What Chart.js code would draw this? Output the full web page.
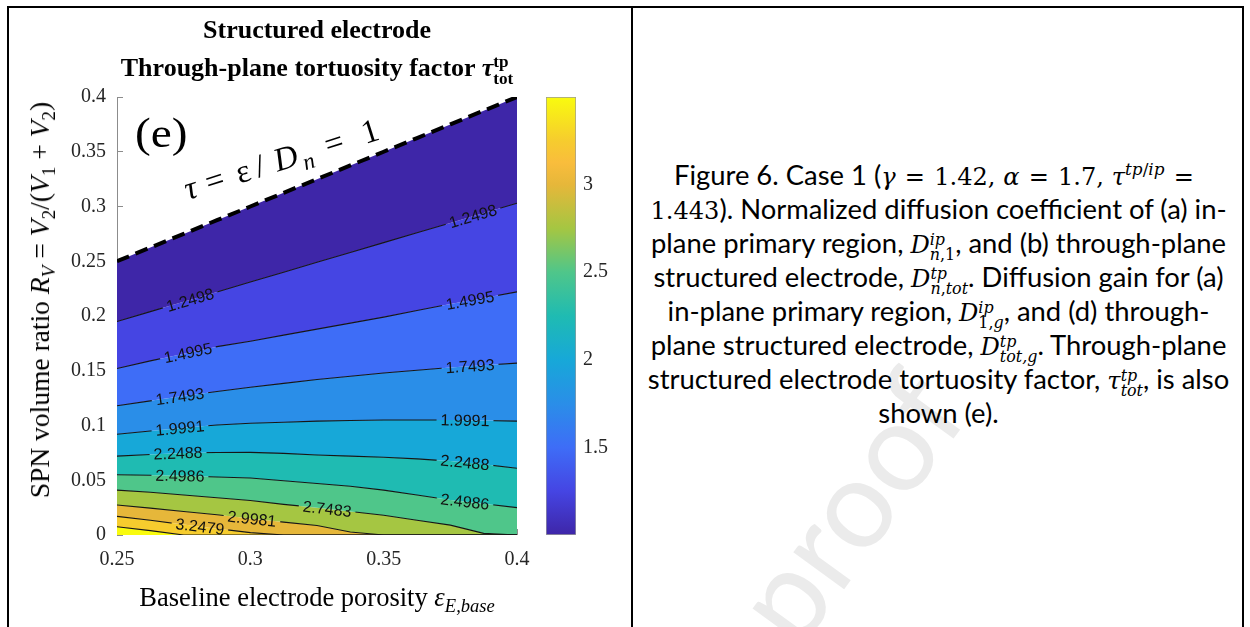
<!DOCTYPE html>
<html>
<head>
<meta charset="utf-8">
<script src="https://cdn.jsdelivr.net/npm/chart.js@4.4.1/dist/chart.umd.min.js"></script>
<style>
  html, body { margin: 0; padding: 0; background: #fff; }
  #page { position: relative; width: 1250px; height: 627px; overflow: hidden; background: #fff; }
  .rule { position: absolute; background: #000; z-index: 5; }
  .serif { font-family: 'Liberation Serif', 'Times New Roman', serif; color: #000; }
  canvas { position: absolute; top: 0; }
  #plot { left: 0; }
  #cbar { left: 520px; }
  #title { position: absolute; left: 0; width: 634px; top: 11px; text-align: center; font-weight: bold; font-size: 26px; line-height: 38px; }
  #xtitle { position: absolute; left: 0; width: 634px; top: 583px; text-align: center; font-size: 26.5px; line-height: 28px; white-space: nowrap; }
  #ytitle { position: absolute; left: 40px; top: 300px; font-size: 27.5px; line-height: 30px; white-space: nowrap; transform: translate(-50%, -50%) rotate(-90deg); }
  .ss { display: inline-flex; flex-direction: column; font-size: 0.66em; line-height: 0.95; vertical-align: 0.5em; text-align: left; }
  sub { font-size: 0.7em; vertical-align: -0.3em; line-height: 0; }
  sup { font-size: 0.7em; vertical-align: 0.6em; line-height: 0; }
  .cap { position: absolute; left: 634px; width: 609px; height: 34px; line-height: 34px; text-align: center; white-space: nowrap;
         font-family: Lato, 'Open Sans', sans-serif; font-weight: 400; font-size: 27.4px; color: #000; z-index: 2; }
  .m { font-family: 'DejaVu Serif', 'Liberation Serif', serif; font-size: 0.88em; }
  .m i { font-style: italic; }
  .eq { margin: 0 0.38em; }
  .cm { margin-right: 0.32em; }
  #wm { position: absolute; left: 846px; top: 505px; font-family: Lato, sans-serif; font-size: 124px; color: #ebebeb; white-space: nowrap;
        transform: translate(-50%, -50%) rotate(-54deg); z-index: 1; }
</style>
</head>
<body>
<div id="page">
  <div id="wm">proof</div>

  <div class="rule" style="left:7px; top:6px; width:1237px; height:2px;"></div>
  <div class="rule" style="left:7px; top:6px; width:2px; height:621px;"></div>
  <div class="rule" style="left:631px; top:6px; width:2px; height:621px;"></div>
  <div class="rule" style="left:1242px; top:6px; width:2px; height:621px;"></div>

  <canvas id="plot" width="632" height="627"></canvas>
  <canvas id="cbar" width="112" height="627"></canvas>

  <div id="title" class="serif">Structured electrode<br>Through-plane tortuosity factor <i>τ</i><span class="ss"><span>tp</span><span>tot</span></span></div>
  <div id="xtitle" class="serif">Baseline electrode porosity <i>ε</i><sub><i>E,base</i></sub></div>
  <div id="ytitle" class="serif">SPN volume ratio <i>R</i><sub><i>V</i></sub> = <i>V</i><sub>2</sub>/(<i>V</i><sub>1</sub> + <i>V</i><sub>2</sub>)</div>

  <div class="cap" style="top:158px">Figure 6. Case 1 (<span class="m"><i>γ</i><span class="eq">=</span>1.42,<span class="cm"></span><i>α</i><span class="eq">=</span>1.7,<span class="cm"></span><i>τ</i><sup><i>tp</i>/<i>ip</i></sup><span class="eq">=</span></span></div>
  <div class="cap" style="top:192px"><span class="m">1.443</span>). Normalized diffusion coefficient of (a) in-</div>
  <div class="cap" style="top:226px">plane primary region, <span class="m"><i>D</i><span class="ss"><i>ip</i><span><i>n</i>,1</span></span></span>, and (b) through-plane</div>
  <div class="cap" style="top:260px">structured electrode, <span class="m"><i>D</i><span class="ss"><i>tp</i><span><i>n</i>,<i>tot</i></span></span></span>. Diffusion gain for (a)</div>
  <div class="cap" style="top:294px">in-plane primary region, <span class="m"><i>D</i><span class="ss"><i>ip</i><span>1,<i>g</i></span></span></span>, and (d) through-</div>
  <div class="cap" style="top:328px">plane structured electrode, <span class="m"><i>D</i><span class="ss"><i>tp</i><i>tot,g</i></span></span>. Through-plane</div>
  <div class="cap" style="top:362px">structured electrode tortuosity factor, <span class="m"><i>τ</i><span class="ss"><i>tp</i><i>tot</i></span></span>, is also</div>
  <div class="cap" style="top:396px">shown (e).</div>
</div>

<script>
// Baseline porosity grid (x) shared by every contour line
const eps = [0.25, 0.2625, 0.275, 0.2875, 0.3, 0.3125, 0.325, 0.3375, 0.35, 0.3625, 0.375, 0.3875, 0.4];

// tau = 1 limit (R_V = eps), upper edge of the filled region
const rvTauOne = [0.25, 0.2625, 0.275, 0.2875, 0.3, 0.3125, 0.325, 0.3375, 0.35, 0.3625, 0.375, 0.3875, 0.4];

// R_V of each contour level (0 where the line has left the plot)
const rv_1_2498 = [0.195, 0.204, 0.213, 0.222, 0.231, 0.240, 0.249, 0.258, 0.267, 0.276, 0.285, 0.294, 0.303];
const rv_1_4995 = [0.152, 0.159, 0.1655, 0.172, 0.177, 0.1825, 0.188, 0.1935, 0.199, 0.205, 0.211, 0.2165, 0.222];
const rv_1_7493 = [0.118, 0.1225, 0.127, 0.131, 0.135, 0.1385, 0.142, 0.145, 0.148, 0.1505, 0.153, 0.155, 0.157];
const rv_1_9991 = [0.092, 0.095, 0.098, 0.1005, 0.102, 0.103, 0.104, 0.1045, 0.105, 0.105, 0.105, 0.1045, 0.104];
const rv_2_2488 = [0.072, 0.0735, 0.075, 0.0753, 0.0755, 0.0745, 0.073, 0.072, 0.071, 0.0695, 0.0675, 0.0645, 0.061];
const rv_2_4986 = [0.055, 0.0545, 0.054, 0.053, 0.052, 0.0495, 0.047, 0.0445, 0.041, 0.0365, 0.032, 0.0285, 0.025];
const rv_2_7483 = [0.041, 0.039, 0.0365, 0.034, 0.0315, 0.028, 0.025, 0.0215, 0.018, 0.0135, 0.009, 0.0015, 0];
const rv_2_9981 = [0.0274, 0.0245, 0.0215, 0.0185, 0.015, 0.0118, 0.0087, 0.0028, 0, 0, 0, 0, 0];
const rv_3_2479 = [0.017, 0.0135, 0.0095, 0.0058, 0.0022, 0, 0, 0, 0, 0, 0, 0, 0];
const rv_3_4976 = [0.0076, 0.004, 0, 0, 0, 0, 0, 0, 0, 0, 0, 0, 0];

const levels = [1.2498, 1.4995, 1.7493, 1.9991, 2.2488, 2.4986, 2.7483, 2.9981, 3.2479, 3.4976];
const contourRv = [rv_1_2498, rv_1_4995, rv_1_7493, rv_1_9991, rv_2_2488, rv_2_4986, rv_2_7483, rv_2_9981, rv_3_2479, rv_3_4976];

// where clabel put the numbers (porosity along each line)
const labelEps = [[0.2774, 0.3835], [0.2766, 0.3824], [0.2736, 0.3824], [0.2736, 0.3805], [0.2729, 0.3805], [0.2736, 0.3805], [0.3288], [0.3006], [0.2811], []];

const xTicks = [0.25, 0.3, 0.35, 0.4];
const yTicks = [0, 0.05, 0.1, 0.15, 0.2, 0.25, 0.3, 0.35, 0.4];
const cbarRange = [1.0, 3.4976];
const cbarTicks = [1.5, 2, 2.5, 3];

// parula-like colour stops (t from 0 to 1 over the colour range)
const parula = [
  [0.0, '#3e26a8'], [0.1, '#4545e3'], [0.2, '#3e6df7'], [0.3, '#2a8ee8'], [0.4, '#17a8d8'],
  [0.5, '#1fbbb2'], [0.6, '#4fc68a'], [0.7, '#a5c642'], [0.8, '#e6b73a'], [0.85, '#f9bd3c'],
  [0.9, '#f6cc2e'], [1.0, '#f9fb0e']
];
const bandColor = (k) => parula.find((s) => Math.abs(s[0] - k / 10) < 1e-9)[1];

const TICK_FONT = { family: "'Liberation Serif', 'Times New Roman', serif", size: 20 };
const TICK_COLOR = '#262626';

function rvAt(arr, x) {
  if (x <= eps[0]) return arr[0];
  for (let i = 1; i < eps.length; i++) {
    if (x <= eps[i]) {
      const f = (x - eps[i - 1]) / (eps[i] - eps[i - 1]);
      return arr[i - 1] + f * (arr[i] - arr[i - 1]);
    }
  }
  return arr[arr.length - 1];
}

const LABEL_FONT = "16px 'Liberation Sans', Arial, sans-serif";

function labelBoxes(chart, dsIndex) {
  const li = dsIndex - 1;
  if (li < 0 || li >= levels.length) return [];
  const xs = chart.scales.x, ys = chart.scales.y, ctx = chart.ctx;
  ctx.save();
  ctx.font = LABEL_FONT;
  const text = levels[li].toFixed(4);
  const w = ctx.measureText(text).width;
  ctx.restore();
  return labelEps[li].map((ex) => {
    const arr = contourRv[li];
    const px = xs.getPixelForValue(ex), py = ys.getPixelForValue(rvAt(arr, ex));
    const dx = xs.getPixelForValue(ex + 0.004) - xs.getPixelForValue(ex - 0.004);
    const dy = ys.getPixelForValue(rvAt(arr, ex + 0.004)) - ys.getPixelForValue(rvAt(arr, ex - 0.004));
    return { text, px, py, angle: Math.atan2(dy, dx), w: w + 8, h: 14 };
  });
}

const contourLabels = {
  id: 'contourLabels',
  beforeDatasetDraw(chart, args) {
    const boxes = labelBoxes(chart, args.index);
    if (!boxes.length) return;
    const ctx = chart.ctx;
    ctx.save();
    ctx.beginPath();
    ctx.rect(0, 0, chart.width, chart.height);
    boxes.forEach((b) => {
      const c = Math.cos(b.angle), s = Math.sin(b.angle);
      const pts = [[-b.w / 2, -b.h / 2], [b.w / 2, -b.h / 2], [b.w / 2, b.h / 2], [-b.w / 2, b.h / 2]]
        .map(([u, v]) => [b.px + u * c - v * s, b.py + u * s + v * c]);
      ctx.moveTo(pts[0][0], pts[0][1]);
      pts.slice(1).forEach((p) => ctx.lineTo(p[0], p[1]));
      ctx.closePath();
    });
    ctx.clip('evenodd');
  },
  afterDatasetDraw(chart, args) {
    if (labelBoxes(chart, args.index).length) chart.ctx.restore();
  },
  afterDatasetsDraw(chart) {
    const ctx = chart.ctx;
    ctx.save();
    ctx.fillStyle = '#111';
    ctx.font = LABEL_FONT;
    ctx.textAlign = 'center';
    ctx.textBaseline = 'middle';
    for (let i = 1; i <= levels.length; i++) {
      labelBoxes(chart, i).forEach((b) => {
        ctx.save();
        ctx.translate(b.px, b.py);
        ctx.rotate(b.angle);
        ctx.fillText(b.text, 0, 1);
        ctx.restore();
      });
    }
    ctx.restore();

    // "(e)" panel tag
    const a = chart.chartArea;
    ctx.save();
    ctx.fillStyle = '#000';
    ctx.font = "43px 'Liberation Serif', serif";
    ctx.textBaseline = 'alphabetic';
    ctx.translate(a.left + 18, a.top + 50);
    ctx.scale(1.1, 1);
    ctx.fillText('(e)', 0, 0);
    ctx.restore();

    // tau = eps / D_n = 1 along the limit line (glyphs set at math spacing)
    const xs = chart.scales.x, ys = chart.scales.y;
    const x0 = xs.getPixelForValue(0.2766), y0 = ys.getPixelForValue(0.306);
    ctx.save();
    ctx.translate(x0, y0);
    ctx.rotate(-17.5 * Math.PI / 180);
    ctx.fillStyle = '#000';
    ctx.textBaseline = 'alphabetic';
    const it = "italic 33px 'Liberation Serif', serif";
    const up = "33px 'Liberation Serif', serif";
    const parts = [['τ', it, 0, 0], ['=', up, 22, 0], ['ε', up, 54, 0], ['/', up, 74, 0], ['D', it, 94, 0],
                   ['n', "italic 23px 'Liberation Serif', serif", 121, 7], ['=', up, 147, 0], ['1', up, 186, 0]];
    parts.forEach(([t, f, dx, dy]) => {
      ctx.font = f;
      ctx.fillText(t, dx, dy);
    });
    ctx.restore();
  }
};

const datasets = [{
  data: eps.map((x, i) => ({ x, y: rvTauOne[i] })),
  borderColor: '#000',
  borderWidth: 4,
  borderDash: [13, 7],
  backgroundColor: bandColor(0),
  fill: '+1',
  pointRadius: 0
}];
contourRv.forEach((arr, i) => {
  datasets.push({
    data: eps.map((x, j) => ({ x, y: arr[j] })),
    borderColor: '#161616',
    borderWidth: 1.1,
    backgroundColor: bandColor(i + 1),
    fill: i < contourRv.length - 1 ? '+1' : 'start',
    pointRadius: 0
  });
});

new Chart(document.getElementById('plot'), {
  type: 'line',
  data: { datasets },
  options: {
    responsive: false,
    animation: false,
    events: [],
    layout: { padding: { left: 0, top: 97, right: 115, bottom: 0 } },
    plugins: {
      legend: { display: false },
      tooltip: { enabled: false },
      filler: { drawTime: 'beforeDatasetsDraw', propagate: false }
    },
    scales: {
      x: {
        type: 'linear', min: 0.25, max: 0.4,
        afterBuildTicks: (s) => { s.ticks = xTicks.map((v) => ({ value: v })); },
        afterFit: (s) => { s.height = 92; },
        ticks: { font: TICK_FONT, color: TICK_COLOR, padding: 19, maxRotation: 0, callback: (v) => String(v) },
        grid: { drawOnChartArea: false, drawTicks: true, tickLength: -6, color: '#8c8c8c' },
        border: { display: false }
      },
      y: {
        type: 'linear', min: 0, max: 0.4,
        afterBuildTicks: (s) => { s.ticks = yTicks.map((v) => ({ value: v })); },
        afterFit: (s) => { s.width = 117; },
        ticks: { font: TICK_FONT, color: TICK_COLOR, padding: 17, callback: (v) => String(v) },
        grid: { drawOnChartArea: false, drawTicks: true, tickLength: -6, color: '#8c8c8c' },
        border: { display: true, color: '#8c8c8c', width: 1 }
      }
    }
  },
  plugins: [contourLabels]
});

// colour bar: one floating bar filled with the colormap
new Chart(document.getElementById('cbar'), {
  type: 'bar',
  data: {
    labels: [''],
    datasets: [{
      data: [cbarRange],
      backgroundColor: (c) => {
        const area = c.chart.chartArea;
        if (!area) return null;
        const g = c.chart.ctx.createLinearGradient(0, area.bottom, 0, area.top);
        parula.forEach(([t, col]) => g.addColorStop(t, col));
        return g;
      },
      borderColor: '#9a9a9a',
      borderWidth: 1,
      borderSkipped: false,
      barPercentage: 1,
      categoryPercentage: 1
    }]
  },
  options: {
    responsive: false,
    animation: false,
    events: [],
    layout: { padding: { left: 26, top: 97, right: 16, bottom: 92 } },
    plugins: { legend: { display: false }, tooltip: { enabled: false } },
    scales: {
      x: { display: false },
      y: {
        position: 'right', min: cbarRange[0], max: cbarRange[1], z: 1,
        afterBuildTicks: (s) => { s.ticks = cbarTicks.map((v) => ({ value: v })); },
        afterFit: (s) => { s.width = 40; },
        ticks: { font: TICK_FONT, color: TICK_COLOR, padding: 10, callback: (v) => String(v) },
        grid: { drawOnChartArea: false, drawTicks: true, tickLength: -3, color: '#222' },
        border: { display: false }
      }
    }
  }
});
</script>
</body>
</html>
